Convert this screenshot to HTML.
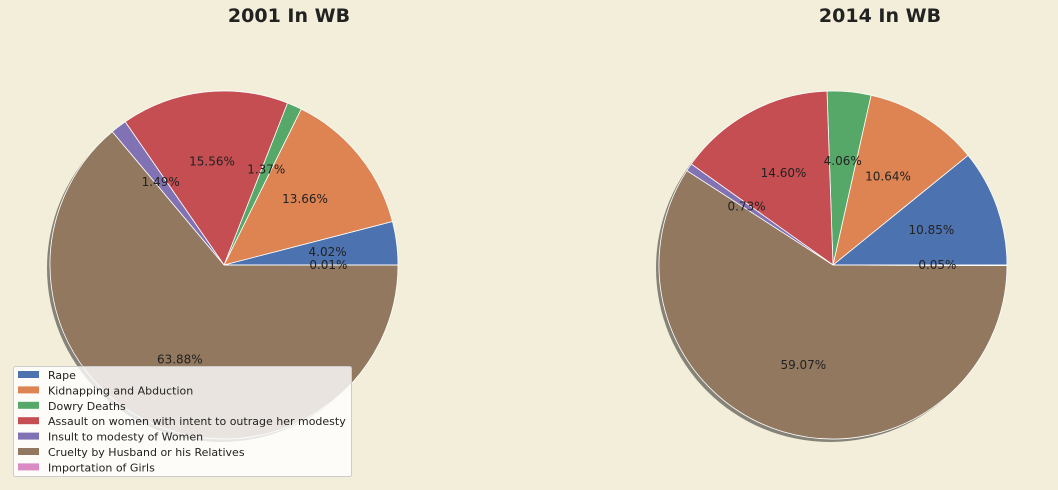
<!DOCTYPE html>
<html><head><meta charset="utf-8"><style>
body{margin:0;background:#f2eed9;font-family:"DejaVu Sans","Liberation Sans",sans-serif;}
svg{display:block}
</style></head><body>
<svg id="c" width="1058" height="490">
<rect width="1058" height="490" fill="#f2eed9"/>
<text x="289" y="22" text-anchor="middle" font-size="19" font-weight="bold" fill="#222">2001 In WB</text>
<text x="880" y="22" text-anchor="middle" font-size="19" font-weight="bold" fill="#222">2014 In WB</text>
</svg>
<script>
const categories=["Rape","Kidnapping and Abduction","Dowry Deaths","Assault on women with intent to outrage her modesty","Insult to modesty of Women","Cruelty by Husband or his Relatives","Importation of Girls"];
const values2001=[4.02,13.66,1.37,15.56,1.49,63.88,0.01];
const values2014=[10.85,10.64,4.06,14.60,0.73,59.07,0.05];
const colors=["#4c72b0","#dd8452","#55a868","#c44e52","#8172b3","#937860","#da8bc3"];
const NS="http://www.w3.org/2000/svg";
const svg=document.getElementById('c');
function mk(t,a,p){const e=document.createElementNS(NS,t);for(const k in a)e.setAttribute(k,a[k]);(p||svg).appendChild(e);return e;}
function pie(vals,cx,cy,r,key){
  const g=mk('g',{});
  
  
  const sh=mk('circle',{cx:cx-3,cy:cy+3,r:r,fill:'#000','fill-opacity':0.45},g);
  
  
  const tot=vals.reduce((a,b)=>a+b,0);
  let a0=0;
  const labels=[];
  vals.forEach((v,i)=>{
    const a1=a0+v/tot*2*Math.PI;
    const x0=cx+r*Math.cos(a0),y0=cy-r*Math.sin(a0),x1=cx+r*Math.cos(a1),y1=cy-r*Math.sin(a1);
    const large=(a1-a0)>Math.PI?1:0;
    const p=mk('path',{d:`M${cx},${cy}L${x0},${y0}A${r},${r} 0 ${large} 0 ${x1},${y1}Z`,fill:colors[i],stroke:'#fff','stroke-width':0.8},g);
    
    
    labels.push([(a0+a1)/2,v,i]);
    a0=a1;
  });
  labels.forEach(([m,v,i])=>{
    const t=mk('text',{x:cx+0.6*r*Math.cos(m),y:cy-0.6*r*Math.sin(m)+4,'text-anchor':'middle','font-size':12,fill:'#222'},g);
    t.textContent=v.toFixed(2)+'%';
    
    
  });
}
pie(values2001,224,265,174,'2001');
pie(values2014,833,265,174,'2014');
const lg=mk('g',{});


const box=mk('rect',{x:13.5,y:366.5,width:338,height:110,rx:2,fill:'#fff','fill-opacity':0.8,stroke:'#ccc'},lg);


categories.forEach((c,i)=>{
  const y=375+i*15.4;
  const s=mk('rect',{x:18,y:y-4,width:21,height:7,fill:colors[i]},lg);
  
  
  const t=mk('text',{x:48,y:y+4,'font-size':11,fill:'#222'},lg);
  t.textContent=c;
  
  
});
</script>
</body></html>
